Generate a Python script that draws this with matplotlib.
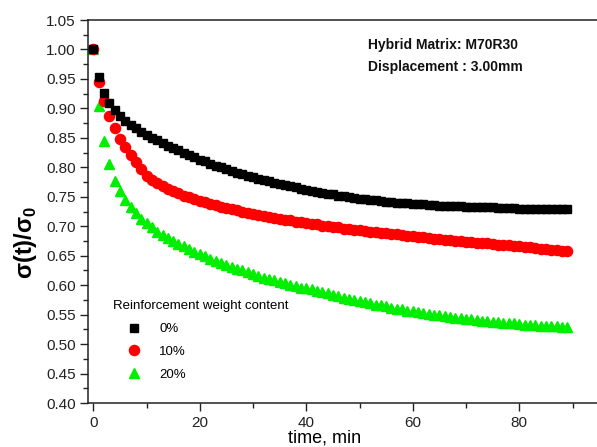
import matplotlib
matplotlib.use("Agg")
import matplotlib.pyplot as plt
from matplotlib.ticker import MultipleLocator, FormatStrFormatter

plt.rcParams['font.family'] = ['Liberation Sans', 'DejaVu Sans']
plt.rcParams['mathtext.fontset'] = 'custom'
plt.rcParams['mathtext.rm'] = 'Liberation Sans'
plt.rcParams['mathtext.bf'] = 'Liberation Sans:bold'

time_min = list(range(0, 90))

ratio_0pct = [
    1.000, 0.954, 0.926, 0.909, 0.897, 0.887, 0.879, 0.872, 0.866, 0.860,
    0.855, 0.850, 0.846, 0.841, 0.837, 0.833, 0.829, 0.825, 0.821, 0.817,
    0.813, 0.810, 0.806, 0.803, 0.800, 0.797, 0.794, 0.791, 0.788, 0.786,
    0.783, 0.781, 0.778, 0.776, 0.774, 0.772, 0.770, 0.768, 0.766, 0.764,
    0.762, 0.760, 0.758, 0.757, 0.755, 0.754, 0.752, 0.751, 0.750, 0.748,
    0.747, 0.746, 0.745, 0.744, 0.743, 0.742, 0.741, 0.740, 0.740, 0.739,
    0.738, 0.738, 0.737, 0.736, 0.736, 0.735, 0.735, 0.734, 0.734, 0.734,
    0.733, 0.733, 0.733, 0.732, 0.732, 0.732, 0.731, 0.731, 0.731, 0.731,
    0.730, 0.730, 0.730, 0.730, 0.730, 0.729, 0.729, 0.729, 0.729, 0.729,
]

ratio_10pct = [
    1.000, 0.944, 0.912, 0.887, 0.866, 0.848, 0.834, 0.821, 0.809, 0.798,
    0.786, 0.779, 0.773, 0.768, 0.763, 0.759, 0.756, 0.752, 0.749, 0.746,
    0.743, 0.741, 0.738, 0.736, 0.733, 0.731, 0.729, 0.727, 0.725, 0.723,
    0.721, 0.719, 0.718, 0.716, 0.714, 0.713, 0.711, 0.710, 0.708, 0.707,
    0.705, 0.704, 0.703, 0.701, 0.700, 0.699, 0.698, 0.696, 0.695, 0.694,
    0.693, 0.692, 0.691, 0.690, 0.689, 0.688, 0.687, 0.686, 0.685, 0.684,
    0.683, 0.682, 0.681, 0.680, 0.679, 0.678, 0.677, 0.676, 0.675, 0.675,
    0.674, 0.673, 0.672, 0.671, 0.671, 0.670, 0.669, 0.668, 0.668, 0.667,
    0.666, 0.665, 0.664, 0.663, 0.662, 0.661, 0.660, 0.659, 0.658, 0.658,
]

ratio_20pct = [
    1.000, 0.904, 0.845, 0.805, 0.777, 0.759, 0.745, 0.733, 0.722, 0.713,
    0.705, 0.698, 0.691, 0.685, 0.680, 0.675, 0.670, 0.666, 0.661, 0.657,
    0.653, 0.649, 0.645, 0.641, 0.638, 0.634, 0.631, 0.628, 0.625, 0.622,
    0.619, 0.616, 0.613, 0.611, 0.608, 0.606, 0.603, 0.601, 0.598, 0.596,
    0.595, 0.593, 0.590, 0.588, 0.586, 0.583, 0.581, 0.579, 0.577, 0.575,
    0.573, 0.571, 0.569, 0.567, 0.566, 0.564, 0.562, 0.560, 0.559, 0.557,
    0.556, 0.554, 0.553, 0.551, 0.550, 0.549, 0.547, 0.546, 0.545, 0.544,
    0.543, 0.542, 0.541, 0.540, 0.539, 0.538, 0.537, 0.536, 0.535, 0.535,
    0.534, 0.533, 0.533, 0.532, 0.531, 0.531, 0.530, 0.530, 0.529, 0.529,
]

series_labels = ['0%', '10%', '20%']

fig = plt.figure(figsize=(5.97, 4.47), dpi=100)
ax = fig.add_axes([0.1479, 0.0984, 0.8521, 0.8568])

ax.plot(time_min, ratio_0pct, linestyle='none', marker='s', ms=6.3,
        color='black', mec='black', label=series_labels[0], zorder=3)
ax.plot(time_min, ratio_10pct, linestyle='none', marker='o', ms=7.3,
        color='red', mec='red', label=series_labels[1], zorder=2)
ax.plot(time_min, ratio_20pct, linestyle='none', marker='^', ms=7.8,
        color='#00ee00', mec='#00ee00', label=series_labels[2], zorder=1)

ax.set_xlim(-0.94, 94.6)
ax.set_ylim(0.40, 1.05)

ax.xaxis.set_major_locator(MultipleLocator(20))
ax.xaxis.set_minor_locator(MultipleLocator(10))
ax.yaxis.set_major_locator(MultipleLocator(0.05))
ax.yaxis.set_minor_locator(MultipleLocator(0.025))
ax.yaxis.set_major_formatter(FormatStrFormatter('%.2f'))

ax.spines['right'].set_visible(False)
for s in ['left', 'bottom', 'top']:
    ax.spines[s].set_linewidth(1.1)
    ax.spines[s].set_color('#222222')

ax.tick_params(axis='both', which='major', direction='out', length=6, width=1.0,
               labelsize=11, colors='#222222', labelcolor='#222222', pad=3)
ax.tick_params(axis='both', which='minor', direction='out', length=3.5, width=1.0,
               colors='#222222')
ax.tick_params(top=False, right=False, which='both')

ax.set_xlabel('time, min', fontsize=13)
ax.xaxis.set_label_coords(0.465, -0.07)
ax.set_ylabel(r'σ(t)/σ$_\mathbf{0}$', fontsize=17, fontweight='bold')
ax.yaxis.set_label_coords(-0.097, 0.42)

leg = ax.legend(title='Reinforcement weight content', loc='upper left',
                bbox_to_anchor=(0.0486, 0.268), frameon=False, borderpad=0,
                borderaxespad=0, fontsize=9.5, title_fontsize=9.5,
                handlelength=3.2, handletextpad=0.3, labelspacing=0.8,
                alignment='left')

fig.text(0.616, 0.899, 'Hybrid Matrix: M70R30', fontsize=10, fontweight='bold',
         va='center', ha='left', color='#111111')
fig.text(0.616, 0.850, 'Displacement : 3.00mm', fontsize=10, fontweight='bold',
         va='center', ha='left', color='#111111')

fig.savefig('out.png', dpi=100)
